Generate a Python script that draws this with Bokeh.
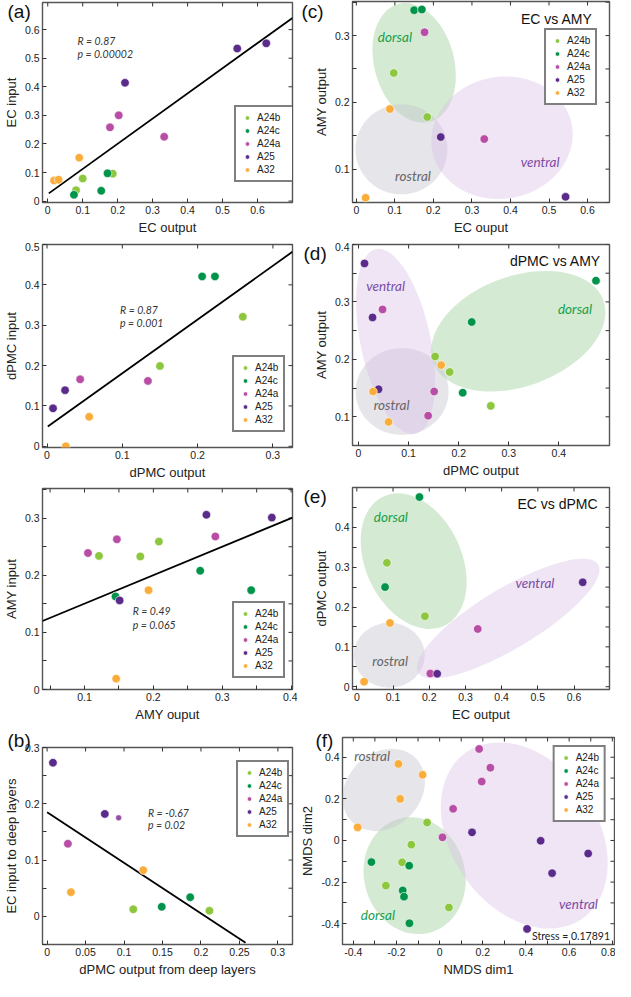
from bokeh.plotting import figure
from bokeh.models import Range1d, LinearAxis, FixedTicker, Legend, LegendItem, Label, Title
from bokeh.layouts import row, column
from bokeh.embed import file_html
from bokeh.resources import INLINE
from bokeh.core.properties import value

GROUPS = ["A24b", "A24c", "A24a", "A25", "A32"]
GROUP_COLORS = ["#8dc63f", "#00934a", "#b84da6", "#5b2b8c", "#fbad3c"]
REGION_FILL = {"dorsal": "#9fd09b", "rostral": "#c6c6d0", "ventral": "#dcc0e6"}
REGION_ALPHA = {"dorsal": 0.45, "rostral": 0.45, "ventral": 0.42}
REGION_TEXT = {"dorsal": "#17a04b", "rostral": "#666666", "ventral": "#7b4ca6"}

# ---------------- (a) EC output vs EC input ----------------
a1_group = ["A24b", "A24b", "A24b", "A24c", "A24c", "A24c", "A24a", "A24a", "A24a",
            "A25", "A25", "A25", "A32", "A32", "A32"]
a1_x = [0.081, 0.100, 0.186, 0.075, 0.153, 0.171, 0.178, 0.203, 0.333,
        0.221, 0.542, 0.625, 0.018, 0.031, 0.090]
a1_y = [0.038, 0.079, 0.096, 0.022, 0.036, 0.097, 0.258, 0.300, 0.225,
        0.414, 0.534, 0.552, 0.072, 0.075, 0.152]
a1_fit_x = [0.003, 0.700]
a1_fit_y = [0.027, 0.641]
a1_stats = ["R = 0.87", "p = 0.00002"]
a1_ticks = [0, 0.1, 0.2, 0.3, 0.4, 0.5, 0.6]
a1_tick_labels = ["0", "0.1", "0.2", "0.3", "0.4", "0.5", "0.6"]

# ---------------- (a) dPMC output vs dPMC input ----------------
a2_group = ["A24b", "A24b", "A24c", "A24c", "A24a", "A24a", "A25", "A25", "A32", "A32"]
a2_x = [0.150, 0.260, 0.206, 0.223, 0.044, 0.134, 0.008, 0.024, 0.025, 0.056]
a2_y = [0.199, 0.321, 0.421, 0.421, 0.166, 0.162, 0.094, 0.139, 0.000, 0.073]
a2_fit_x = [0.001, 0.326]
a2_fit_y = [0.049, 0.482]
a2_stats = ["R = 0.87", "p = 0.001"]
a2_xticks = [0, 0.1, 0.2, 0.3]
a2_xtick_labels = ["0", "0.1", "0.2", "0.3"]
a2_yticks = [0, 0.1, 0.2, 0.3, 0.4, 0.5]
a2_ytick_labels = ["0", "0.1", "0.2", "0.3", "0.4", "0.5"]

# ---------------- (a) AMY output vs AMY input ----------------
a3_group = ["A24b", "A24b", "A24b", "A24c", "A24c", "A24c", "A24a", "A24a", "A24a",
            "A25", "A25", "A25", "A32", "A32"]
a3_x = [0.121, 0.181, 0.208, 0.145, 0.268, 0.342, 0.105, 0.147, 0.290,
        0.151, 0.277, 0.372, 0.146, 0.193]
a3_y = [0.234, 0.233, 0.259, 0.163, 0.208, 0.174, 0.239, 0.263, 0.268,
        0.156, 0.306, 0.301, 0.019, 0.174]
a3_fit_x = [0.039, 0.402]
a3_fit_y = [0.120, 0.301]
a3_stats = ["R = 0.49", "p = 0.065"]
a3_xticks = [0.1, 0.2, 0.3, 0.4]
a3_xtick_labels = ["0.1", "0.2", "0.3", "0.4"]
a3_yticks = [0, 0.1, 0.2, 0.3]
a3_ytick_labels = ["0", "0.1", "0.2", "0.3"]

# ---------------- (b) deep layers ----------------
b_group = ["A24b", "A24b", "A24c", "A24c", "A24a", "A25", "A25", "A32", "A32"]
b_x = [0.112, 0.211, 0.149, 0.186, 0.027, 0.0076, 0.075, 0.031, 0.125]
b_y = [0.0125, 0.010, 0.017, 0.034, 0.129, 0.273, 0.182, 0.043, 0.082]
b_small_x = [0.093]
b_small_y = [0.175]
b_fit_x = [0.0, 0.258]
b_fit_y = [0.185, -0.047]
b_stats = ["R = -0.67", "p = 0.02"]
b_xticks = [0, 0.05, 0.1, 0.15, 0.2, 0.25, 0.3]
b_xtick_labels = ["0", "0.05", "0.1", "0.15", "0.2", "0.25", "0.3"]
b_yticks = [0, 0.1, 0.2, 0.3]
b_ytick_labels = ["0", "0.1", "0.2", "0.3"]

# ---------------- (c) EC vs AMY ----------------
c_group = ["A24b", "A24b", "A24c", "A24c", "A24a", "A24a", "A25", "A25", "A32", "A32"]
c_x = [0.097, 0.184, 0.150, 0.170, 0.177, 0.332, 0.219, 0.543, 0.024, 0.087]
c_y = [0.244, 0.178, 0.338, 0.339, 0.305, 0.145, 0.148, 0.0585, 0.057, 0.190]
c_reg = ["dorsal", "rostral", "ventral"]
c_reg_x = [0.150, 0.117, 0.378]
c_reg_y = [0.259, 0.1296, 0.147]
c_reg_w = [80, 92, 142]
c_reg_h = [122, 90, 122]
c_reg_a = [15, 0, 10]
c_lab_x = [0.100, 0.147, 0.477]
c_lab_y = [0.2975, 0.090, 0.110]
c_xticks = [0, 0.1, 0.2, 0.3, 0.4, 0.5, 0.6]
c_xtick_labels = ["0", "0.1", "0.2", "0.3", "0.4", "0.5", "0.6"]
c_yticks = [0.1, 0.2, 0.3]
c_ytick_labels = ["0.1", "0.2", "0.3"]

# ---------------- (d) dPMC vs AMY ----------------
d_group = ["A24b", "A24b", "A24b", "A24c", "A24c", "A24c", "A24a", "A24a", "A24a",
           "A25", "A25", "A25", "A32", "A32", "A32"]
d_x = [0.153, 0.182, 0.264, 0.226, 0.208, 0.474, 0.048, 0.151, 0.139,
       0.012, 0.028, 0.040, 0.029, 0.060, 0.165]
d_y = [0.205, 0.178, 0.119, 0.265, 0.142, 0.337, 0.287, 0.144, 0.102,
       0.367, 0.273, 0.148, 0.144, 0.091, 0.190]
d_reg = ["dorsal", "rostral", "ventral"]
d_reg_x = [0.319, 0.087, 0.074]
d_reg_y = [0.249, 0.144, 0.231]
d_reg_w = [181, 93, 70]
d_reg_h = [110, 87, 189]
d_reg_a = [20, 0, 12]
d_lab_x = [0.432, 0.066, 0.054]
d_lab_y = [0.288, 0.120, 0.327]
d_xticks = [0, 0.1, 0.2, 0.3, 0.4]
d_xtick_labels = ["0", "0.1", "0.2", "0.3", "0.4"]
d_yticks = [0.1, 0.2, 0.3, 0.4]
d_ytick_labels = ["0.1", "0.2", "0.3", "0.4"]

# ---------------- (e) EC vs dPMC ----------------
e_group = ["A24b", "A24b", "A24c", "A24c", "A24a", "A24a", "A25", "A25", "A32", "A32"]
e_x = [0.083, 0.188, 0.173, 0.078, 0.203, 0.334, 0.222, 0.624, 0.020, 0.0915]
e_y = [0.311, 0.177, 0.476, 0.250, 0.033, 0.145, 0.0325, 0.262, 0.0125, 0.160]
e_reg = ["dorsal", "rostral", "ventral"]
e_reg_x = [0.157, 0.0896, 0.418]
e_reg_y = [0.315, 0.079, 0.171]
e_reg_w = [96, 71, 210]
e_reg_h = [143, 65, 60]
e_reg_a = [25, 0, 31]
e_lab_x = [0.094, 0.092, 0.492]
e_lab_y = [0.425, 0.065, 0.260]
e_xticks = [0, 0.1, 0.2, 0.3, 0.4, 0.5, 0.6]
e_xtick_labels = ["0", "0.1", "0.2", "0.3", "0.4", "0.5", "0.6"]
e_yticks = [0, 0.1, 0.2, 0.3, 0.4]
e_ytick_labels = ["0", "0.1", "0.2", "0.3", "0.4"]

# ---------------- (f) NMDS ----------------
f_group = ["A24b", "A24b", "A24b", "A24b", "A24b",
           "A24c", "A24c", "A24c", "A24c", "A24c",
           "A24a", "A24a", "A24a", "A24a", "A24a",
           "A25", "A25", "A25", "A25", "A25",
           "A32", "A32", "A32", "A32"]
f_x = [-0.058, -0.131, -0.174, -0.249, 0.043,
       -0.316, -0.141, -0.171, -0.165, -0.140,
       0.183, 0.235, 0.195, 0.0625, 0.013,
       0.150, 0.468, 0.688, 0.521, 0.405,
       -0.191, -0.079, -0.183, -0.380]
f_y = [0.086, -0.020, -0.105, -0.217, -0.322,
       -0.104, -0.121, -0.240, -0.270, -0.398,
       0.440, 0.350, 0.283, 0.152, 0.015,
       0.039, -0.0015, -0.063, -0.157, -0.425,
       0.368, 0.316, 0.200, 0.063]
f_reg = ["dorsal", "rostral", "ventral"]
f_reg_x = [-0.116, -0.259, 0.392]
f_reg_y = [-0.169, 0.243, 0.024]
f_reg_w = [101, 90, 146]
f_reg_h = [118, 74, 203]
f_reg_a = [15, 45, 35]
f_lab_x = [-0.286, -0.313, 0.643]
f_lab_y = [-0.357, 0.408, -0.304]
f_stress = "Stress = 0.17891"
f_xticks = [-0.4, -0.2, 0, 0.2, 0.4, 0.6, 0.8]
f_xtick_labels = ["-0.4", "-0.2", "0", "0.2", "0.4", "0.6", "0.8"]
f_yticks = [-0.4, -0.2, 0, 0.2, 0.4]
f_ytick_labels = ["-0.4", "-0.2", "0", "0.2", "0.4"]

TICK_FONT = "Liberation Sans"
ITAL_FONT = "Lato"
TICK_COLOR = "#333333"


def style_axis(ax, ticks, labels, minor, title):
    ax.ticker = FixedTicker(ticks=ticks, minor_ticks=minor)
    ax.axis_line_color = None
    ax.major_tick_in = 4
    ax.major_tick_out = 0
    ax.minor_tick_in = 4
    ax.minor_tick_out = 0
    ax.major_tick_line_color = TICK_COLOR
    ax.minor_tick_line_color = TICK_COLOR
    ax.major_label_overrides = {t: l for t, l in zip(ticks, labels)}
    ax.major_label_text_font = TICK_FONT
    ax.major_label_text_font_size = "10.5px"
    ax.major_label_text_color = "#222222"
    ax.major_label_standoff = 3
    ax.axis_label = title
    ax.axis_label_text_font = TICK_FONT
    ax.axis_label_text_font_size = "13px"
    ax.axis_label_text_font_style = "normal"
    ax.axis_label_text_color = "#222222"
    ax.axis_label_standoff = 3


def mirror_ticks(p, xr, yr, xt, xm, yt, ym):
    top_x = list(xt) + list(xm)
    right_y = list(yt) + list(ym)
    p.ray(x=top_x, y=[yr[1]] * len(top_x), length=4, angle=-90, angle_units="deg",
          length_units="screen", line_color=TICK_COLOR, line_width=1)
    p.ray(x=[xr[1]] * len(right_y), y=right_y, length=4, angle=180, angle_units="deg",
          length_units="screen", line_color=TICK_COLOR, line_width=1)


def make_panel(W, H, borders, xr, yr, xt, xl, xm, yt, yl, ym, xlab, ylab):
    L, R, T, B = borders
    p = figure(width=W, height=H, x_range=Range1d(*xr), y_range=Range1d(*yr),
               x_axis_type=None, y_axis_type=None, output_backend="svg",
               toolbar_location=None, min_border_left=L, min_border_right=R,
               min_border_top=T, min_border_bottom=B)
    p.outline_line_color = "#555555"
    p.outline_line_width = 1.4
    p.border_fill_color = "white"
    p.background_fill_color = "white"
    for loc, ticks, labels, minor, title in [("below", xt, xl, xm, xlab),
                                             ("left", yt, yl, ym, ylab)]:
        ax = LinearAxis()
        style_axis(ax, ticks, labels, minor, title)
        p.add_layout(ax, loc)
    mirror_ticks(p, xr, yr, xt, xm, yt, ym)
    return p


def add_points(p, groups, xs, ys, size=8.5):
    rends = []
    for g, col in zip(GROUPS, GROUP_COLORS):
        gx = [x for x, gg in zip(xs, groups) if gg == g]
        gy = [y for y, gg in zip(ys, groups) if gg == g]
        r = p.scatter(gx, gy, marker="circle", size=size, fill_color=col,
                      line_color="white", line_width=0.6)
        rends.append(r)
    return rends


def add_legend(p, rends, loc, label_width=20, margin=0):
    items = [LegendItem(label=g, renderers=[r]) for g, r in zip(GROUPS, rends)]
    lg = Legend(items=items, location=loc, border_line_color="black",
                border_line_width=2, background_fill_color="white",
                background_fill_alpha=1, padding=5, spacing=2, margin=margin,
                glyph_width=12, glyph_height=11, label_height=11,
                label_standoff=4, label_width=label_width,
                label_text_font=TICK_FONT, label_text_font_size="10px",
                label_text_color="#222222")
    p.add_layout(lg)


def add_fit(p, fx, fy):
    p.line(fx, fy, line_color="black", line_width=1.8)


def add_stats(p, x, y1, y2, texts):
    for yy, t in zip([y1, y2], texts):
        p.add_layout(Label(x=x, y=yy, text=t, text_font=ITAL_FONT,
                           text_font_style="italic", text_font_size="10.5px",
                           text_color="#333333", text_baseline="middle"))


def add_regions(p, names, rx, ry, rw, rh, ra, lx, ly):
    for n, x, y, w, h, a in zip(names, rx, ry, rw, rh, ra):
        p.ellipse(x=[x], y=[y], width=[w], height=[h], angle=[a],
                  width_units="screen", height_units="screen", angle_units="deg",
                  fill_color=REGION_FILL[n], fill_alpha=REGION_ALPHA[n], line_color=None)
    for n, x, y in zip(names, lx, ly):
        p.text(x=[x], y=[y], text=[n], text_font=value(ITAL_FONT),
               text_font_style="italic", text_font_size="13.5px",
               text_color=REGION_TEXT[n], text_align="center", text_baseline="middle")


def panel_letter(p, txt, offset, standoff):
    p.add_layout(Title(text=txt, align="left", offset=offset, standoff=standoff,
                       vertical_align="bottom", text_font=TICK_FONT,
                       text_font_size="19px", text_font_style="normal",
                       text_color="#111111"), "above")


def add_title(p, txt, x, y):
    p.add_layout(Label(x=x, y=y, text=txt, text_font=TICK_FONT,
                       text_font_size="14px", text_color="#111111",
                       text_align="right", text_baseline="middle"))


LW = 297
RW = 318

# ---- left column ----
pa1 = make_panel(LW, 242, (35, 5, 2, 40), (-0.015, 0.70), (-0.005, 0.695),
                 a1_ticks, a1_tick_labels, [], a1_ticks, a1_tick_labels, [],
                 "EC output", "EC input")
add_fit(pa1, a1_fit_x, a1_fit_y)
r = add_points(pa1, a1_group, a1_x, a1_y)
add_legend(pa1, r, (192, 20), label_width=37)
add_stats(pa1, 0.085, 0.56, 0.515, a1_stats)
panel_letter(pa1, "(a)", -35, -38)

pa2 = make_panel(LW, 245, (35, 5, 2, 40), (-0.006, 0.326), (-0.003, 0.5),
                 a2_xticks, a2_xtick_labels, [], a2_yticks, a2_ytick_labels, [],
                 "dPMC output", "dPMC input")
add_fit(pa2, a2_fit_x, a2_fit_y)
r = add_points(pa2, a2_group, a2_x, a2_y)
add_legend(pa2, r, (190, 15))
add_stats(pa2, 0.097, 0.338, 0.305, a2_stats)

pa3 = make_panel(LW, 242, (35, 5, 1, 40), (0.039, 0.402), (0.0, 0.352),
                 a3_xticks, a3_xtick_labels, [0.05, 0.15, 0.25, 0.35],
                 a3_yticks, a3_ytick_labels, [0.05, 0.15, 0.25, 0.35],
                 "AMY ouput", "AMY input")
add_fit(pa3, a3_fit_x, a3_fit_y)
r = add_points(pa3, a3_group, a3_x, a3_y)
add_legend(pa3, r, (190, 11))
add_stats(pa3, 0.170, 0.137, 0.113, a3_stats)

pb = make_panel(LW, 252, (35, 5, 18, 37), (-0.006, 0.319), (-0.05, 0.30),
                b_xticks, b_xtick_labels, [], b_yticks, b_ytick_labels,
                [-0.05, 0.05, 0.15, 0.25],
                "dPMC output from deep layers", "EC input to deep layers")
add_fit(pb, b_fit_x, b_fit_y)
r = add_points(pb, b_group, b_x, b_y)
pb.scatter(b_small_x, b_small_y, marker="circle", size=6, fill_color="#9351a6",
           line_color="white", line_width=0.5)
add_legend(pb, r, (194, 107))
add_stats(pb, 0.131, 0.183, 0.162, b_stats)
panel_letter(pb, "(b)", -35, -6)

# ---- right column ----
pc = make_panel(RW, 242, (55, 6, 1, 40), (-0.010, 0.657), (0.05, 0.351),
                c_xticks, c_xtick_labels, [], c_yticks, c_ytick_labels,
                [0.05, 0.15, 0.25, 0.35], "EC ouput", "AMY output")
add_regions(pc, c_reg, c_reg_x, c_reg_y, c_reg_w, c_reg_h, c_reg_a, c_lab_x, c_lab_y)
r = add_points(pc, c_group, c_x, c_y)
add_legend(pc, r, (192, 97))
add_title(pc, "EC vs AMY", 0.613, 0.325)
panel_letter(pc, "(c)", -51, -40)

pd = make_panel(RW, 243, (55, 6, 2, 40), (-0.012, 0.501), (0.05, 0.40),
                d_xticks, d_xtick_labels, [], d_yticks, d_ytick_labels,
                [0.15, 0.25, 0.35], "dPMC output", "AMY output")
add_regions(pd, d_reg, d_reg_x, d_reg_y, d_reg_w, d_reg_h, d_reg_a, d_lab_x, d_lab_y)
add_points(pd, d_group, d_x, d_y)
add_title(pd, "dPMC vs AMY", 0.484, 0.371)
panel_letter(pd, "(d)", -49, -38)

pe = make_panel(RW, 244, (55, 6, 2, 40), (-0.012, 0.698), (-0.007, 0.5),
                e_xticks, e_xtick_labels, [], e_yticks, e_ytick_labels,
                [0.05, 0.15, 0.25, 0.35, 0.45], "EC output", "dPMC output")
add_regions(pe, e_reg, e_reg_x, e_reg_y, e_reg_w, e_reg_h, e_reg_a, e_lab_x, e_lab_y)
add_points(pe, e_group, e_x, e_y)
add_title(pe, "EC vs dPMC", 0.665, 0.458)
panel_letter(pe, "(e)", -49, -38)

pf = make_panel(RW, 252, (34, 1, 8, 37), (-0.45, 0.81), (-0.5, 0.495),
                f_xticks, f_xtick_labels, [-0.3, -0.1, 0.1, 0.3, 0.5, 0.7],
                f_yticks, f_ytick_labels, [-0.3, -0.1, 0.1, 0.3],
                "NMDS dim1", "NMDS dim2")
add_regions(pf, f_reg, f_reg_x, f_reg_y, f_reg_w, f_reg_h, f_reg_a, f_lab_x, f_lab_y)
r = add_points(pf, f_group, f_x, f_y)
add_legend(pf, r, "top_right", margin=8)
pf.add_layout(Label(x=0.789, y=-0.458, text=f_stress, text_font=ITAL_FONT,
                    text_font_size="10.5px", text_color="#222222",
                    text_align="right", text_baseline="middle"))
panel_letter(pf, "(f)", -27, -26)

layout = row(column(pa1, pa2, pa3, pb, spacing=0),
             column(pc, pd, pe, row(pf, spacing=0), spacing=0), spacing=0)

open("out.html", "w").write(file_html(layout, INLINE))
